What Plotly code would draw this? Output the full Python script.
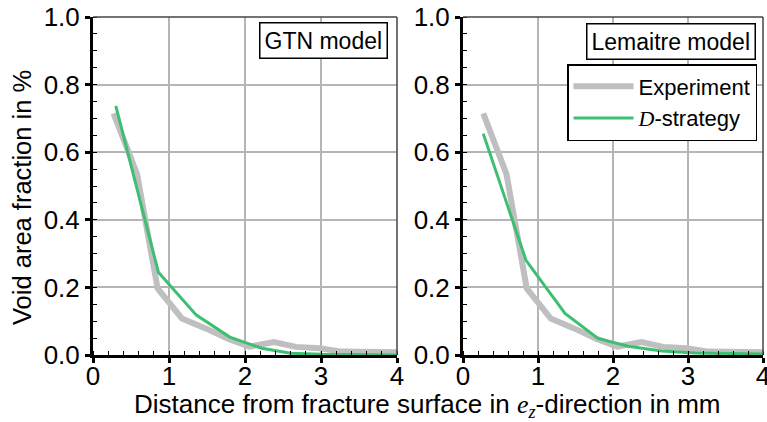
import plotly.graph_objects as go

# ---- data ----
exp_x = [0.27, 0.58, 0.85, 1.17, 1.49, 1.79, 2.06, 2.38, 2.67, 2.98, 3.27, 3.6, 4.0]
exp_y = [0.715, 0.535, 0.197, 0.108, 0.078, 0.047, 0.025, 0.038, 0.024, 0.02, 0.01, 0.01, 0.008]

gtn_x = [0.3, 0.86, 1.36, 1.8, 2.22, 2.6, 3.0, 3.5, 4.0]
gtn_y = [0.737, 0.245, 0.118, 0.053, 0.02, 0.005, 0.002, 0.001, 0.0]

lem_x = [0.27, 0.84, 1.36, 1.8, 2.2, 2.65, 3.1, 3.5, 4.0]
lem_y = [0.655, 0.28, 0.123, 0.049, 0.026, 0.012, 0.006, 0.004, 0.003]

x_ticks = [0, 1, 2, 3, 4]
y_ticks = [0.0, 0.2, 0.4, 0.6, 0.8, 1.0]

panel_labels = ["GTN model", "Lemaitre model"]
series_names = ["Experiment", "<span style=\"font-family:'Liberation Serif'\"><i>D</i></span>-strategy"]

GRAY = "#bfbfbf"
GREEN = "#3cbf72"
FONT = "Liberation Sans, Arial, sans-serif"
W, H = 767, 422

fig = go.Figure()

fig.add_trace(go.Scatter(x=exp_x, y=exp_y, mode="lines", line=dict(color=GRAY, width=6),
                         name=series_names[0], xaxis="x", yaxis="y", showlegend=False))
fig.add_trace(go.Scatter(x=gtn_x, y=gtn_y, mode="lines", line=dict(color=GREEN, width=3),
                         name=series_names[1], xaxis="x", yaxis="y", showlegend=False))
fig.add_trace(go.Scatter(x=exp_x, y=exp_y, mode="lines", line=dict(color=GRAY, width=6),
                         name=series_names[0], xaxis="x2", yaxis="y2", showlegend=True))
fig.add_trace(go.Scatter(x=lem_x, y=lem_y, mode="lines", line=dict(color=GREEN, width=3),
                         name=series_names[1], xaxis="x2", yaxis="y2", showlegend=True))

ydom = [1 - 355 / H, 1 - 17 / H]
xdom1 = [93 / W, 397 / W]
xdom2 = [463 / W, 763 / W]

def xax(dom, anchor):
    return dict(domain=dom, anchor=anchor, range=[0, 4], tickvals=x_ticks, automargin=False,
                showline=True, linecolor="black", linewidth=3, mirror=False,
                ticks="outside", ticklen=5, tickwidth=2.5, tickcolor="black",
                ticklabelstandoff=-9, ticklabeloverflow="allow",
                minor=dict(ticks="inside", dtick=0.2, ticklen=4, tickwidth=1.2, tickcolor="black", showgrid=False),
                showgrid=True, gridcolor="#b5b5b5", gridwidth=1.5, zeroline=False,
                tickfont=dict(family=FONT, size=26, color="black"), fixedrange=True)

def yax(dom, anchor):
    return dict(domain=dom, anchor=anchor, range=[0, 1], tickvals=y_ticks, tickformat=".1f", automargin=False,
                showline=True, linecolor="black", linewidth=3, mirror=False,
                ticks="outside", ticklen=5, tickwidth=2.5, tickcolor="black",
                ticklabeloverflow="allow",
                minor=dict(ticks="inside", dtick=0.05, ticklen=4, tickwidth=1.2, tickcolor="black", showgrid=False),
                showgrid=True, gridcolor="#b5b5b5", gridwidth=1.5, zeroline=False,
                tickfont=dict(family=FONT, size=26, color="black"), fixedrange=True)

shapes = []
for xr, yr in [("x", "y"), ("x2", "y2")]:
    shapes.append(dict(type="line", xref=f"{xr} domain", yref=f"{yr} domain", x0=0, x1=1, y0=1, y1=1,
                       line=dict(color="#444444", width=1.5)))
    shapes.append(dict(type="line", xref=f"{xr} domain", yref=f"{yr} domain", x0=1, x1=1, y0=0, y1=1,
                       line=dict(color="#444444", width=1.5)))

annotations = [
    dict(text=panel_labels[0], xref="x domain", yref="y domain", x=1 - 9 / 304, y=1 - 5 / 338,
         xanchor="right", yanchor="top", showarrow=False, font=dict(family=FONT, size=23, color="black"),
         bordercolor="black", borderwidth=1.5, borderpad=4, bgcolor="white"),
    dict(text=panel_labels[1], xref="x2 domain", yref="y2 domain", x=1 - 7 / 300, y=1 - 6 / 338,
         xanchor="right", yanchor="top", showarrow=False, font=dict(family=FONT, size=23, color="black"),
         bordercolor="black", borderwidth=1.5, borderpad=4, bgcolor="white"),
    dict(text="Void area fraction in %", xref="paper", yref="paper", x=22 / W, y=1 - 198 / H,
         xanchor="center", yanchor="middle", textangle=-90, showarrow=False,
         font=dict(family=FONT, size=25.5, color="black")),
    dict(text="Distance from fracture surface in <span style=\"font-family:'Liberation Serif'\"><i>e</i><sub><i>z</i></sub></span>-direction in mm",
         xref="paper", yref="paper", x=427 / W, y=1 - 405 / H,
         xanchor="center", yanchor="middle", showarrow=False,
         font=dict(family=FONT, size=26, color="black")),
]

fig.update_layout(
    width=W, height=H, margin=dict(l=0, r=0, t=0, b=0, autoexpand=False),
    paper_bgcolor="white", plot_bgcolor="white",
    xaxis=xax(xdom1, "y"), yaxis=yax(ydom, "x"),
    xaxis2=xax(xdom2, "y2"), yaxis2=yax(ydom, "x2"),
    shapes=shapes, annotations=annotations,
    legend=dict(x=757 / W, y=1 - 64 / H, xanchor="right", yanchor="top",
                bordercolor="black", borderwidth=1.5, bgcolor="white",
                font=dict(family=FONT, size=22, color="black"), itemwidth=60,
                tracegroupgap=0),
    showlegend=True,
)

fig.write_html("out.html", config=dict(displayModeBar=False))
